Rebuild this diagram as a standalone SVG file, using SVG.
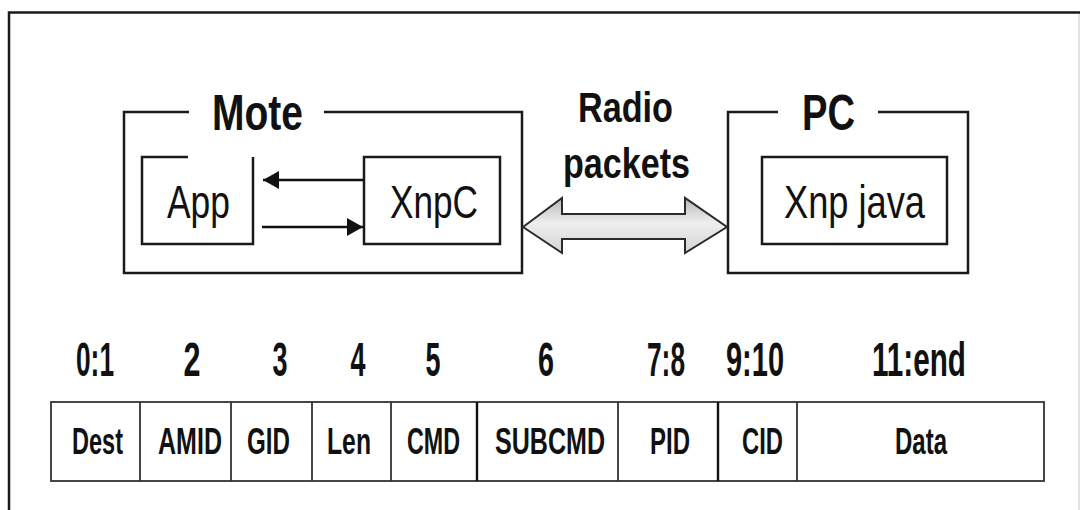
<svg xmlns="http://www.w3.org/2000/svg" width="1086" height="510" viewBox="0 0 1086 510">
  <style>
    .ln { fill: none; stroke: #1a1a1a; stroke-width: 2.5; }
    .cell { fill: none; stroke: #333; stroke-width: 1.8; }
    .div { stroke: #333; stroke-width: 1.8; }
    .divk { stroke: #111; stroke-width: 2.4; }
    .t { font-family: "Liberation Sans", Arial, sans-serif; fill: #111; text-anchor: middle; }
    .b { font-weight: bold; }
    .title { font-size: 50px; }
    .radio { font-size: 42px; }
    .box { font-size: 46px; }
    .num { font-size: 49px; }
    .ct { font-size: 25px; }
    .arr { stroke: #111; stroke-width: 2.5; fill: none; }
  </style>
  <defs>
    <marker id="ah" viewBox="0 0 16 18" refX="16" refY="9" markerWidth="16" markerHeight="18" markerUnits="userSpaceOnUse" orient="auto">
      <path d="M0,0 L16,9 L0,18 z" fill="#111"/>
    </marker>
    <linearGradient id="shaft" x1="0" y1="0" x2="0" y2="1">
      <stop offset="0" stop-color="#b8b8b8"/>
      <stop offset="0.45" stop-color="#eeeeee"/>
      <stop offset="1" stop-color="#d4d4d4"/>
    </linearGradient>
  </defs>
  <rect width="1086" height="510" fill="#ffffff"/>

  <g id="frame">
    <path d="M9,510 V12.5 H1080" fill="none" stroke="#1a1a1a" stroke-width="2.5"/>
    <line x1="1079" y1="14" x2="1079" y2="510" stroke="#d8d8d8" stroke-width="1.5"/>
  </g>

  <g id="mote">
    <path class="ln" d="M189,112 H124 V273 H522 V112 H324"/>
    <text class="t b title" x="257.5" y="130" textLength="91" lengthAdjust="spacingAndGlyphs">Mote</text>
  </g>

  <g id="app">
    <path class="ln" d="M188,157 H142 V244 H253 V157" stroke-width="2"/>
    <text class="t box" x="198.5" y="218" textLength="63" lengthAdjust="spacingAndGlyphs">App</text>
  </g>

  <g id="xnpc">
    <rect class="ln" x="364" y="157" width="136" height="87" stroke-width="2"/>
    <text class="t box" x="434" y="218" textLength="88" lengthAdjust="spacingAndGlyphs">XnpC</text>
  </g>

  <g id="radio">
    <text class="t b radio" x="625.5" y="122" textLength="95" lengthAdjust="spacingAndGlyphs">Radio</text>
    <text class="t b radio" x="626.5" y="178" textLength="127" lengthAdjust="spacingAndGlyphs">packets</text>
  </g>

  <g id="pc">
    <path class="ln" d="M778,112 H728 V273 H968 V112 H878"/>
    <text class="t b title" x="828.5" y="130" textLength="53" lengthAdjust="spacingAndGlyphs">PC</text>
  </g>

  <g id="xnpjava">
    <rect class="ln" x="762" y="157" width="185" height="87" stroke-width="2"/>
    <text class="t box" x="854.5" y="218" textLength="141" lengthAdjust="spacingAndGlyphs">Xnp java</text>
  </g>

  <g id="connectors">
    <line class="arr" x1="363" y1="180" x2="263" y2="180" marker-end="url(#ah)"/>
    <line class="arr" x1="262" y1="227" x2="363" y2="227" marker-end="url(#ah)"/>
    <polygon points="523,227 562,198 562,214 685,214 685,198 727,227 685,253 685,239 562,239 562,253" fill="url(#shaft)" stroke="#2a2a2a" stroke-width="2" stroke-linejoin="miter"/>
  </g>

  <g id="offsets">
    <text class="t b num" x="95" y="376" textLength="38" lengthAdjust="spacingAndGlyphs">0:1</text>
    <text class="t b num" x="192" y="376" textLength="17" lengthAdjust="spacingAndGlyphs">2</text>
    <text class="t b num" x="280" y="376" textLength="15" lengthAdjust="spacingAndGlyphs">3</text>
    <text class="t b num" x="358" y="376" textLength="15" lengthAdjust="spacingAndGlyphs">4</text>
    <text class="t b num" x="433" y="376" textLength="15" lengthAdjust="spacingAndGlyphs">5</text>
    <text class="t b num" x="546" y="376" textLength="16" lengthAdjust="spacingAndGlyphs">6</text>
    <text class="t b num" x="666" y="376" textLength="38" lengthAdjust="spacingAndGlyphs">7:8</text>
    <text class="t b num" x="755" y="376" textLength="58" lengthAdjust="spacingAndGlyphs">9:10</text>
    <text class="t b num" x="919" y="376" textLength="94" lengthAdjust="spacingAndGlyphs">11:end</text>
  </g>

  <g id="packet">
    <rect class="cell" x="51" y="402" width="993" height="79"/>
    <line class="div" x1="140" y1="402" x2="140" y2="481"/>
    <line class="div" x1="231" y1="402" x2="231" y2="481"/>
    <line class="div" x1="312" y1="402" x2="312" y2="481"/>
    <line class="div" x1="391" y1="402" x2="391" y2="481"/>
    <line class="divk" x1="477" y1="402" x2="477" y2="481"/>
    <line class="div" x1="618" y1="402" x2="618" y2="481"/>
    <line class="divk" x1="718" y1="402" x2="718" y2="481"/>
    <line class="div" x1="797" y1="402" x2="797" y2="481"/>
    <g id="f-dest" transform="translate(97.5,454) scale(1,1.5)"><text class="t b ct" x="0" y="0" textLength="51" lengthAdjust="spacingAndGlyphs">Dest</text></g>
    <g id="f-amid" transform="translate(190,454) scale(1,1.5)"><text class="t b ct" x="0" y="0" textLength="64" lengthAdjust="spacingAndGlyphs">AMID</text></g>
    <g id="f-gid" transform="translate(268.5,454) scale(1,1.5)"><text class="t b ct" x="0" y="0" textLength="43" lengthAdjust="spacingAndGlyphs">GID</text></g>
    <g id="f-len" transform="translate(349,454) scale(1,1.5)"><text class="t b ct" x="0" y="0" textLength="44" lengthAdjust="spacingAndGlyphs">Len</text></g>
    <g id="f-cmd" transform="translate(433.5,454) scale(1,1.5)"><text class="t b ct" x="0" y="0" textLength="53" lengthAdjust="spacingAndGlyphs">CMD</text></g>
    <g id="f-subcmd" transform="translate(550,454) scale(1,1.5)"><text class="t b ct" x="0" y="0" textLength="110" lengthAdjust="spacingAndGlyphs">SUBCMD</text></g>
    <g id="f-pid" transform="translate(670,454) scale(1,1.5)"><text class="t b ct" x="0" y="0" textLength="40" lengthAdjust="spacingAndGlyphs">PID</text></g>
    <g id="f-cid" transform="translate(762.5,454) scale(1,1.5)"><text class="t b ct" x="0" y="0" textLength="41" lengthAdjust="spacingAndGlyphs">CID</text></g>
    <g id="f-data" transform="translate(921,454) scale(1,1.5)"><text class="t b ct" x="0" y="0" textLength="52" lengthAdjust="spacingAndGlyphs">Data</text></g>
  </g>
</svg>
